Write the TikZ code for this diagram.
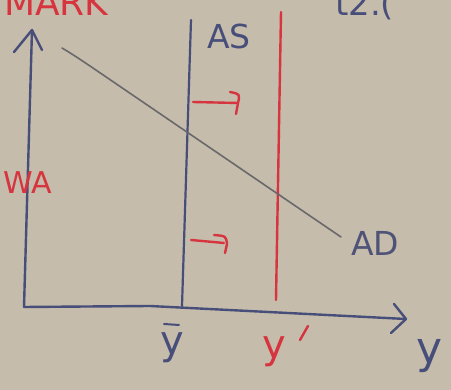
\documentclass[tikz,border=0pt]{standalone}
\usepackage{fontspec}
\setmainfont{DejaVu Sans}
\usetikzlibrary{arrows.meta}
\definecolor{board}{RGB}{197,188,171}
\definecolor{inkblue}{RGB}{72,78,122}
\definecolor{inkred}{RGB}{214,52,62}
\definecolor{inkgrey}{RGB}{105,104,106}
\tikzset{
  bluepen/.style={draw=inkblue, line width=2.4pt, line cap=round, line join=round},
  redpen/.style={draw=inkred, line width=2.4pt, line cap=round, line join=round},
  greypen/.style={draw=inkgrey, line width=1.6pt, line cap=round},
  hand/.style={inner sep=0pt, font=\fontsize{30}{30}\selectfont},
}
\begin{document}
\begin{tikzpicture}[x=1pt,y=-1pt]
\fill[board] (0,0) rectangle (451,390);
\useasboundingbox (0,0) rectangle (451,390);
\begin{scope}
\clip (0,0) rectangle (451,390);
% partial texts at top edge
\node[hand, text=inkred, anchor=south west, font=\fontsize{36}{36}\selectfont] (mark) at (4,16) {MARK};
\node[hand, text=inkblue, anchor=south west, font=\fontsize{34}{34}\selectfont] (t2) at (335,20) {t2.(};
% axes
\coordinate (o) at (24,307);
\coordinate (ytop) at (32,30);
\coordinate (xend) at (406,319);
\draw[bluepen] (o) -- (ytop);
\draw[bluepen] (14,52) -- (ytop) -- (42,50);
\draw[bluepen] (o) -- (150,306) -- (xend);
\draw[bluepen] (394,304) -- (xend) -- (391,333);
% AS line
\coordinate (astop) at (191,20);
\coordinate (asbot) at (182,306);
\draw[bluepen, line width=2.2pt] (astop) -- (asbot);
\node[hand, text=inkblue, font=\fontsize{33}{33}\selectfont] (AS) at (229,36) {AS};
% new red line
\coordinate (rtop) at (281,12);
\coordinate (rbot) at (276,300);
\draw[redpen] (rtop) -- (rbot);
% AD curve
\coordinate (adstart) at (62,48);
\coordinate (adend) at (341,237);
\draw[greypen] (adstart) .. controls (72,54) .. (90,66) -- (adend);
\node[hand, text=inkblue!80!inkgrey, font=\fontsize{33}{33}\selectfont] (AD) at (375,243) {AD};
% red shift arrows
\draw[redpen] (193,102) -- (238,103);
\draw[redpen] (230,92) .. controls (240,94) .. (238,103) -- (236,114);
\draw[redpen] (191,240) -- (224,243);
\draw[redpen] (214,235) .. controls (226,236) .. (227,244) -- (225,253);
% labels
\node[hand, text=inkred, font=\fontsize{30}{30}\selectfont] (WA) at (28,183) {WA};
\node[hand, text=inkblue, font=\fontsize{40}{40}\selectfont, anchor=north] (ybar) at (172,332) {y};
\draw[bluepen, line width=2pt] (164,324) -- (179,325);
\node[hand, text=inkred, font=\fontsize{40}{40}\selectfont] (yprime) at (274,352) {y};
\draw[redpen] (308,326) -- (300,340);
\node[hand, text=inkblue, font=\fontsize{44}{44}\selectfont] (ylab) at (430,356) {y};
\end{scope}
\end{tikzpicture}
\end{document}
